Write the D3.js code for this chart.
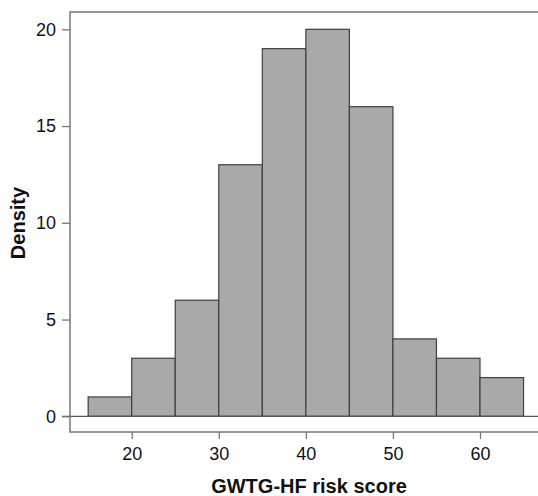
<!DOCTYPE html>
<html>
<head>
<meta charset="utf-8">
<script src="https://cdn.jsdelivr.net/npm/d3@7"></script>
<style>
  body { margin: 0; background: white; }
  svg text { font-family: "Liberation Sans", Arial, sans-serif; }
</style>
</head>
<body>
<div id="chart"></div>
<script>
// histogram bins (left edges, width 5) and heights
const binStarts = [15, 20, 25, 30, 35, 40, 45, 50, 55, 60];
const binWidth = 5;
const densities = [1, 3, 6, 13, 19, 20, 16, 4, 3, 2];
const xTicks = [20, 30, 40, 50, 60];
const yTicks = [0, 5, 10, 15, 20];

const width = 538, height = 496;
const frame = { left: 70, top: 12, bottom: 432 };

const svg = d3.select("#chart").append("svg")
  .attr("width", width)
  .attr("height", height);

const x = d3.scaleLinear().domain([20, 60]).range([131.7, 480]);
const y = d3.scaleLinear().domain([0, 20]).range([416.3, 29.3]);

// bars
svg.selectAll("rect.bar")
  .data(binStarts)
  .enter()
  .append("rect")
  .attr("class", "bar")
  .attr("x", d => x(d))
  .attr("width", d => x(d + binWidth) - x(d))
  .attr("y", (d, i) => y(densities[i]))
  .attr("height", (d, i) => y(0) - y(densities[i]))
  .attr("fill", "#a9a9a9")
  .attr("stroke", "#3f3f3f")
  .attr("stroke-width", 1.2);

// zero line runs across the whole plot
svg.append("line")
  .attr("x1", frame.left - 8).attr("x2", width)
  .attr("y1", y(0)).attr("y2", y(0))
  .attr("stroke", "#555").attr("stroke-width", 1.2);

// frame: left, top, bottom (right side is off the picture)
const frameColor = "#777";
svg.append("path")
  .attr("d", `M${width},${frame.top}H${frame.left}V${frame.bottom}H${width}`)
  .attr("fill", "none")
  .attr("stroke", frameColor)
  .attr("stroke-width", 1.5);

// y axis
const yAxis = d3.axisLeft(y).tickValues(yTicks).tickSize(8).tickPadding(6);
const gy = svg.append("g")
  .attr("transform", `translate(${frame.left},0)`)
  .call(yAxis);
gy.select(".domain").remove();
gy.selectAll(".tick line").attr("stroke", frameColor).attr("stroke-width", 1.3);
gy.selectAll(".tick text").attr("font-size", 18).attr("fill", "#111")
  .attr("font-family", "Liberation Sans, Arial, sans-serif");

// x axis
const xAxis = d3.axisBottom(x).tickValues(xTicks).tickSize(7).tickPadding(8);
const gx = svg.append("g")
  .attr("transform", `translate(0,${frame.bottom})`)
  .call(xAxis);
gx.select(".domain").remove();
gx.selectAll(".tick line").attr("stroke", frameColor).attr("stroke-width", 1.3);
gx.selectAll(".tick text").attr("font-size", 18).attr("fill", "#111")
  .attr("font-family", "Liberation Sans, Arial, sans-serif");

// axis titles
svg.append("text")
  .attr("x", 309).attr("y", 493)
  .attr("text-anchor", "middle")
  .attr("font-size", 20).attr("font-weight", "bold")
  .attr("fill", "#111")
  .text("GWTG-HF risk score");

svg.append("text")
  .attr("transform", "translate(25,223) rotate(-90)")
  .attr("text-anchor", "middle")
  .attr("font-size", 20).attr("font-weight", "bold")
  .attr("fill", "#111")
  .text("Density");
</script>
</body>
</html>
